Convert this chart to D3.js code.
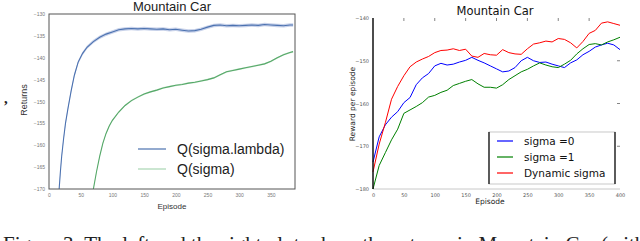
<!DOCTYPE html>
<html>
<head>
<meta charset="utf-8">
<script src="https://cdn.jsdelivr.net/npm/d3@7"></script>
<style>
  body { margin: 0; background: #fff; }
  svg { display: block; }
</style>
</head>
<body>
<svg class="chart"></svg>
<script>
//---------------------------------------------------------------
// two Mountain Car panels side by side + caption strip
//---------------------------------------------------------------
const width = 640
const height = 241

// ---- left panel data ----
const leftTitle = 'Mountain Car'
const leftXTicks = [0, 50, 100, 150, 200, 250, 300, 350]
const leftYTicks = [-130, -135, -140, -145, -150, -155, -160, -165, -170]
const leftNames = ['Q(sigma.lambda)', 'Q(sigma)']

const lambdaEp = [16, 18, 20, 23, 26, 30, 35, 40, 46, 53, 60, 70, 80, 90, 100, 110, 120, 130, 140, 150, 160, 170, 180, 190, 200, 210, 220, 230, 240, 250, 260, 270, 280, 290, 300, 310, 320, 330, 340, 350, 360, 370, 380, 385]
const lambdaRet = [-170, -166, -162.5, -158.5, -155, -151.5, -147.5, -144, -141, -139, -137.6, -136.3, -135.3, -134.6, -134.1, -133.6, -133.4, -133.3, -133.4, -133.3, -133.4, -133.5, -133.4, -133.6, -133.5, -133.7, -133.9, -133.8, -133.5, -133.0, -132.6, -132.5, -132.7, -132.6, -132.7, -132.6, -132.5, -132.6, -132.4, -132.5, -132.6, -132.7, -132.5, -132.5]

const sigmaEp = [70, 75, 80, 85, 90, 95, 100, 110, 120, 130, 140, 150, 160, 170, 180, 190, 200, 210, 220, 230, 240, 250, 260, 270, 280, 290, 300, 310, 320, 330, 340, 350, 360, 370, 380, 385]
const sigmaRet = [-170, -166, -162.5, -159.5, -157.3, -155.6, -154.3, -152.4, -150.9, -149.8, -149, -148.3, -147.8, -147.4, -146.9, -146.6, -146.3, -146.1, -145.8, -145.6, -145.3, -145, -144.6, -143.9, -143.2, -142.9, -142.6, -142.3, -142.0, -141.7, -141.4, -140.8, -140.0, -139.3, -138.8, -138.6]

const lambdaCI = 0.4   // half width of the shaded band
const sigmaCI = 0.2

// ---- right panel data ----
const rightTitle = 'Mountain Car'
const rightXTicks = [0, 50, 100, 150, 200, 250, 300, 350, 400]
const rightYTicks = [-140, -150, -160, -170, -180]
const rightNames = ['sigma =0', 'sigma =1', 'Dynamic sigma']

const episodes = [0, 10, 20, 30, 40, 50, 60, 70, 80, 90, 100, 110, 120, 130, 140, 150, 160, 170, 180, 190, 200, 210, 220, 230, 240, 250, 260, 270, 280, 290, 300, 310, 320, 330, 340, 350, 360, 370, 380, 390, 400]
const sigma0 = [-173.7, -167.8, -165, -163.2, -161.9, -159.8, -158.6, -155.6, -154, -153, -151.2, -150.6, -151, -150.8, -150.3, -149.9, -149.2, -149.9, -150.5, -151.2, -151.9, -152.6, -152.4, -151.6, -150, -149.2, -150, -150.4, -150.3, -150.8, -151.2, -151.6, -150.5, -149.8, -148.6, -147.8, -146.8, -146.3, -145.9, -146.3, -147.4]
const sigma1 = [-180, -174.5, -171.5, -168.5, -166, -162.3, -161.5, -160.7, -159.8, -158.5, -158.1, -157.4, -156.9, -155.8, -155.3, -154.8, -154.4, -155.4, -156.2, -156.2, -156.4, -155.6, -154.4, -153.5, -152.6, -152, -151.2, -150.5, -151, -151.4, -151.6, -150.8, -149.9, -148.4, -147.2, -146.2, -146, -146.3, -145.6, -145.1, -144.5]
const dynSigma = [-176, -169.5, -164.5, -159, -156, -153.5, -151.4, -150.3, -149.6, -149, -148.1, -147.6, -147.5, -147.2, -147.6, -147.3, -148.9, -149.2, -148.3, -148.6, -148.7, -147.4, -148.1, -148.4, -148.5, -147.2, -146.1, -145.8, -145.4, -145.6, -144.8, -145.0, -145.8, -147.0, -145.5, -143.6, -142.9, -141.2, -140.9, -141.3, -141.7]

const captionText = 'Figure 3: The left and the right plots show the returns in Mountain Car (with'

const svg = d3.select('svg.chart')
  .attr('width', width)
  .attr('height', height)

//------------------------ LEFT PANEL ------------------------//
const L = { left: 49, right: 295, top: 14, bottom: 189 }
const lx = d3.scaleLinear().domain([0, 388]).range([L.left, L.right])
const ly = d3.scaleLinear().domain([-170, -130]).range([L.bottom, L.top])
const leftFont = '"Liberation Sans", Arial, sans-serif'

const gl = svg.append('g').attr('class', 'left')

gl.append('clipPath').attr('id', 'clipL')
  .append('rect')
  .attr('x', L.left).attr('y', L.top)
  .attr('width', L.right - L.left).attr('height', L.bottom - L.top)

const leftSeries = [
  { name: leftNames[0], ep: lambdaEp, val: lambdaRet, ci: lambdaCI, color: '#4c72b0', band: '#b9c6e3' },
  { name: leftNames[1], ep: sigmaEp, val: sigmaRet, ci: sigmaCI, color: '#55a868', band: '#c3e2c9' }
]

const plotL = gl.append('g').attr('clip-path', 'url(#clipL)')
leftSeries.forEach(s => {
  const pts = s.ep.map((e, i) => ({ x: e, y: s.val[i] }))
  const area = d3.area()
    .x(d => lx(d.x))
    .y0(d => ly(d.y - s.ci))
    .y1(d => ly(d.y + s.ci))
  plotL.append('path').datum(pts)
    .attr('d', area)
    .attr('fill', s.band)
    .attr('opacity', 0.8)
  plotL.append('path').datum(pts)
    .attr('d', d3.line().x(d => lx(d.x)).y(d => ly(d.y)))
    .attr('fill', 'none')
    .attr('stroke', s.color)
    .attr('stroke-width', 1.1)
})

gl.append('rect')
  .attr('x', L.left).attr('y', L.top)
  .attr('width', L.right - L.left).attr('height', L.bottom - L.top)
  .attr('fill', 'none')
  .attr('stroke', '#555')
  .attr('stroke-width', 1)

// axes (labels only, no tick lines)
const lxAxis = d3.axisBottom(lx).tickValues(leftXTicks).tickSize(0).tickPadding(4)
gl.append('g').attr('transform', `translate(0, ${L.bottom})`).call(lxAxis)
const lyAxis = d3.axisLeft(ly).tickValues(leftYTicks).tickSize(0).tickPadding(4)
  .tickFormat(d => d3.format('d')(d).replace('-', '\u2212'))
gl.append('g').attr('transform', `translate(${L.left}, 0)`).call(lyAxis)
gl.selectAll('.domain').remove()
gl.selectAll('.tick text')
  .attr('font-family', leftFont)
  .attr('font-size', 5)
  .attr('fill', '#777')

gl.append('text')
  .attr('x', (L.left + L.right) / 2).attr('y', 11)
  .attr('text-anchor', 'middle')
  .attr('font-family', leftFont).attr('font-size', 13)
  .attr('fill', '#222')
  .text(leftTitle)

gl.append('text')
  .attr('x', (L.left + L.right) / 2).attr('y', 209)
  .attr('text-anchor', 'middle')
  .attr('font-family', leftFont).attr('font-size', 8)
  .attr('fill', '#333')
  .text('Episode')

gl.append('text')
  .attr('transform', `translate(27, 100) rotate(-90)`)
  .attr('text-anchor', 'middle')
  .attr('font-family', leftFont).attr('font-size', 9)
  .attr('fill', '#333')
  .text('Returns')

// stray comma left of the panel
gl.append('text')
  .attr('x', 4).attr('y', 103)
  .attr('font-family', '"Liberation Serif", serif').attr('font-size', 15)
  .attr('font-weight', 'bold')
  .attr('fill', '#222')
  .text(',')

// legend
const legL = gl.append('g').attr('transform', 'translate(138, 149)')
leftSeries.forEach((s, i) => {
  const row = legL.append('g').attr('transform', `translate(0, ${i * 20})`)
  row.append('line').attr('x1', 0).attr('x2', 28).attr('y1', 0).attr('y2', 0)
    .attr('stroke', i === 0 ? s.color : '#a9d6b2').attr('stroke-width', 1.2)
  row.append('text').attr('x', 39).attr('y', 5)
    .attr('font-family', leftFont).attr('font-size', 14)
    .attr('fill', '#222')
    .text(s.name)
})

//------------------------ RIGHT PANEL ------------------------//
const R = { left: 373, right: 620, top: 18, bottom: 189 }
const rx = d3.scaleLinear().domain([0, 400]).range([R.left, R.right])
const ry = d3.scaleLinear().domain([-180, -140]).range([R.bottom, R.top])
const rightFont = '"DejaVu Sans", sans-serif'

const gr = svg.append('g').attr('class', 'right')

const rightSeries = [
  { name: rightNames[0], val: sigma0, color: '#0000ff' },
  { name: rightNames[1], val: sigma1, color: '#008000' },
  { name: rightNames[2], val: dynSigma, color: '#ff0000' }
]

// bottom spine (light) then lines, then left spine
gr.append('line')
  .attr('x1', R.left).attr('x2', R.right)
  .attr('y1', R.bottom).attr('y2', R.bottom)
  .attr('stroke', '#c8c8c8').attr('stroke-width', 1)

// small inward ticks on top and right
gr.selectAll('line.topTick').data(rightXTicks.slice(1, -1)).enter()
  .append('line').attr('class', 'topTick')
  .attr('x1', d => rx(d)).attr('x2', d => rx(d))
  .attr('y1', R.top).attr('y2', R.top + 3)
  .attr('stroke', '#666').attr('stroke-width', 0.8)
gr.selectAll('line.rightTick').data(rightYTicks.slice(1, -1)).enter()
  .append('line').attr('class', 'rightTick')
  .attr('x1', R.right - 3).attr('x2', R.right)
  .attr('y1', d => ry(d)).attr('y2', d => ry(d))
  .attr('stroke', '#666').attr('stroke-width', 0.8)

rightSeries.forEach(s => {
  gr.append('path').datum(episodes.map((e, i) => ({ x: e, y: s.val[i] })))
    .attr('d', d3.line().x(d => rx(d.x)).y(d => ry(d.y)))
    .attr('fill', 'none')
    .attr('stroke', s.color)
    .attr('stroke-width', 1)
})

gr.append('line')
  .attr('x1', R.left).attr('x2', R.left)
  .attr('y1', R.top).attr('y2', R.bottom)
  .attr('stroke', '#111').attr('stroke-width', 1.5)

const rxAxis = d3.axisBottom(rx).tickValues(rightXTicks).tickSize(0).tickPadding(4)
gr.append('g').attr('transform', `translate(0, ${R.bottom})`).call(rxAxis)
const ryAxis = d3.axisLeft(ry).tickValues(rightYTicks).tickSize(0).tickPadding(4)
  .tickFormat(d => d3.format('d')(d).replace('-', '\u2212'))
gr.append('g').attr('transform', `translate(${R.left}, 0)`).call(ryAxis)
gr.selectAll('.domain').remove()
gr.selectAll('.tick text')
  .attr('font-family', rightFont)
  .attr('font-size', 5)
  .attr('fill', '#555')

gr.append('text')
  .attr('x', 495).attr('y', 15)
  .attr('text-anchor', 'middle')
  .attr('font-family', rightFont).attr('font-size', 11.5)
  .attr('fill', '#111')
  .text(rightTitle)

gr.append('text')
  .attr('x', 490).attr('y', 204)
  .attr('text-anchor', 'middle')
  .attr('font-family', rightFont).attr('font-size', 7.5)
  .attr('fill', '#222')
  .text('Episode')

gr.append('text')
  .attr('transform', `translate(355, 104) rotate(-90)`)
  .attr('text-anchor', 'middle')
  .attr('font-family', rightFont).attr('font-size', 7.5)
  .attr('fill', '#222')
  .text('Reward per episode')

// legend box
const legR = gr.append('g').attr('transform', 'translate(489, 132)')
legR.append('rect')
  .attr('x', 0).attr('y', 0).attr('width', 126).attr('height', 52)
  .attr('fill', '#fff').attr('stroke', '#bbb').attr('stroke-width', 0.8)
legR.append('line').attr('x1', 0).attr('x2', 0).attr('y1', 0).attr('y2', 52)
  .attr('stroke', '#111').attr('stroke-width', 1.3)
legR.append('line').attr('x1', 126).attr('x2', 126).attr('y1', 0).attr('y2', 52)
  .attr('stroke', '#111').attr('stroke-width', 1.3)
rightSeries.forEach((s, i) => {
  const row = legR.append('g').attr('transform', `translate(0, ${9 + i * 16})`)
  row.append('line').attr('x1', 8).attr('x2', 24).attr('y1', 0).attr('y2', 0)
    .attr('stroke', s.color).attr('stroke-width', 1.2)
  row.append('text').attr('x', 35).attr('y', 4)
    .attr('font-family', rightFont).attr('font-size', 10.5)
    .attr('fill', '#111')
    .text(s.name)
})

//------------------------ CAPTION ------------------------//
// the reference crops this line at the bottom edge
svg.append('text')
  .attr('x', 3).attr('y', 251)
  .attr('font-family', '"Liberation Serif", "Times New Roman", serif')
  .attr('font-size', 21)
  .attr('fill', '#222')
  .text(captionText)
</script>
</body>
</html>
